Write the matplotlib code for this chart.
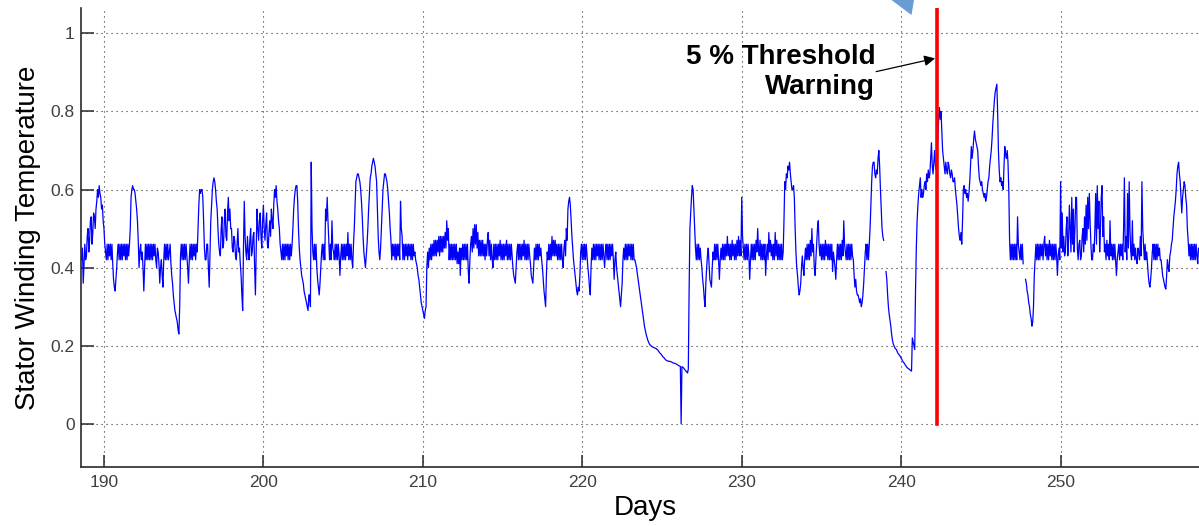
import numpy as np
import matplotlib
matplotlib.use("Agg")
import matplotlib.pyplot as plt
from matplotlib.patches import Polygon

plt.rcParams["font.family"] = ["Liberation Sans", "DejaVu Sans"]

# Data: normalised stator winding temperature, one reading every 0.05 day
first_day = 188.6
day_step = 0.05
nan = float("nan")
temperature = [
    0.42, 0.45, 0.36, 0.41, 0.46, 0.42, 0.43, 0.48,  # 188.6
    0.50, 0.44, 0.47, 0.52, 0.53, 0.46, 0.49, 0.54, 0.53, 0.50, 0.55, 0.57, 0.60, 0.58, 0.61, 0.59, 0.58, 0.55, 0.56, 0.52,  # 189
    0.50, 0.46, 0.44, 0.42, 0.46, 0.42, 0.46, 0.43, 0.46, 0.42, 0.46, 0.41, 0.37, 0.35, 0.34, 0.37, 0.40, 0.44, 0.46, 0.42,  # 190
    0.46, 0.42, 0.46, 0.42, 0.46, 0.43, 0.46, 0.42, 0.46, 0.42, 0.46, 0.43, 0.46, 0.50, 0.58, 0.60, 0.61, 0.60, 0.60, 0.59,  # 191
    0.57, 0.55, 0.52, 0.47, 0.40, 0.44, 0.46, 0.42, 0.44, 0.40, 0.34, 0.40, 0.46, 0.42, 0.46, 0.42, 0.46, 0.42, 0.46, 0.42,  # 192
    0.46, 0.42, 0.46, 0.43, 0.46, 0.42, 0.40, 0.45, 0.44, 0.41, 0.36, 0.40, 0.42, 0.38, 0.35, 0.42, 0.46, 0.42, 0.46, 0.42,  # 193
    0.46, 0.42, 0.44, 0.46, 0.41, 0.38, 0.36, 0.33, 0.31, 0.29, 0.28, 0.27, 0.26, 0.24, 0.23, 0.30, 0.43, 0.46, 0.42, 0.46,  # 194
    0.42, 0.46, 0.42, 0.46, 0.43, 0.40, 0.36, 0.42, 0.46, 0.42, 0.46, 0.42, 0.46, 0.43, 0.46, 0.42, 0.46, 0.44, 0.50, 0.56,  # 195
    0.60, 0.59, 0.60, 0.60, 0.58, 0.52, 0.45, 0.42, 0.42, 0.46, 0.46, 0.40, 0.35, 0.44, 0.52, 0.56, 0.60, 0.62, 0.63, 0.62,  # 196
    0.60, 0.57, 0.55, 0.50, 0.46, 0.44, 0.43, 0.50, 0.53, 0.45, 0.46, 0.52, 0.55, 0.48, 0.47, 0.54, 0.58, 0.52, 0.55, 0.50,  # 197
    0.50, 0.45, 0.44, 0.48, 0.47, 0.43, 0.42, 0.46, 0.50, 0.44, 0.45, 0.41, 0.38, 0.33, 0.29, 0.45, 0.57, 0.48, 0.44, 0.42,  # 198
    0.48, 0.44, 0.42, 0.47, 0.50, 0.43, 0.44, 0.48, 0.49, 0.40, 0.33, 0.45, 0.55, 0.50, 0.47, 0.52, 0.54, 0.48, 0.45, 0.52,  # 199
    0.56, 0.50, 0.47, 0.51, 0.54, 0.46, 0.45, 0.49, 0.52, 0.48, 0.55, 0.52, 0.50, 0.56, 0.60, 0.58, 0.61, 0.57, 0.55, 0.52,  # 200
    0.50, 0.46, 0.44, 0.42, 0.46, 0.42, 0.46, 0.42, 0.46, 0.43, 0.46, 0.42, 0.46, 0.42, 0.46, 0.43, 0.46, 0.50, 0.55, 0.58,  # 201
    0.60, 0.61, 0.61, 0.57, 0.50, 0.45, 0.42, 0.40, 0.38, 0.37, 0.36, 0.34, 0.33, 0.32, 0.31, 0.30, 0.29, 0.33, 0.33, 0.30,  # 202
    0.67, 0.50, 0.44, 0.42, 0.46, 0.42, 0.46, 0.40, 0.37, 0.35, 0.33, 0.36, 0.40, 0.44, 0.46, 0.42, 0.46, 0.42, 0.55, 0.52,  # 203
    0.58, 0.52, 0.47, 0.42, 0.46, 0.42, 0.52, 0.45, 0.44, 0.42, 0.46, 0.42, 0.46, 0.42, 0.46, 0.43, 0.38, 0.43, 0.46, 0.42,  # 204
    0.46, 0.42, 0.46, 0.42, 0.46, 0.43, 0.49, 0.42, 0.46, 0.42, 0.46, 0.42, 0.40, 0.46, 0.50, 0.56, 0.62, 0.63, 0.64, 0.64,  # 205
    0.63, 0.62, 0.60, 0.57, 0.53, 0.48, 0.44, 0.42, 0.40, 0.43, 0.46, 0.50, 0.55, 0.59, 0.63, 0.64, 0.66, 0.67, 0.68, 0.67,  # 206
    0.66, 0.64, 0.62, 0.55, 0.48, 0.44, 0.42, 0.45, 0.50, 0.55, 0.60, 0.62, 0.64, 0.64, 0.63, 0.62, 0.60, 0.57, 0.54, 0.50,  # 207
    0.47, 0.42, 0.46, 0.43, 0.46, 0.42, 0.46, 0.42, 0.46, 0.43, 0.46, 0.42, 0.57, 0.50, 0.48, 0.42, 0.46, 0.42, 0.46, 0.43,  # 208
    0.46, 0.42, 0.46, 0.43, 0.46, 0.42, 0.46, 0.42, 0.46, 0.43, 0.44, 0.42, 0.41, 0.40, 0.38, 0.37, 0.35, 0.33, 0.31, 0.30,  # 209
    0.29, 0.28, 0.27, 0.29, 0.30, 0.40, 0.44, 0.40, 0.45, 0.42, 0.46, 0.42, 0.46, 0.43, 0.47, 0.43, 0.47, 0.43, 0.47, 0.44,  # 210
    0.48, 0.43, 0.48, 0.44, 0.48, 0.44, 0.48, 0.45, 0.49, 0.45, 0.52, 0.47, 0.50, 0.42, 0.46, 0.42, 0.46, 0.42, 0.46, 0.42,  # 211
    0.46, 0.42, 0.46, 0.41, 0.44, 0.41, 0.45, 0.38, 0.45, 0.42, 0.46, 0.42, 0.46, 0.42, 0.46, 0.42, 0.46, 0.39, 0.36, 0.42,  # 212
    0.46, 0.48, 0.44, 0.50, 0.45, 0.51, 0.46, 0.51, 0.45, 0.49, 0.43, 0.47, 0.43, 0.47, 0.43, 0.47, 0.43, 0.46, 0.42, 0.46,  # 213
    0.43, 0.47, 0.49, 0.43, 0.47, 0.42, 0.46, 0.42, 0.40, 0.46, 0.42, 0.46, 0.42, 0.46, 0.42, 0.46, 0.43, 0.47, 0.42, 0.46,  # 214
    0.42, 0.46, 0.42, 0.46, 0.43, 0.47, 0.42, 0.46, 0.42, 0.46, 0.42, 0.46, 0.43, 0.40, 0.38, 0.37, 0.36, 0.40, 0.44, 0.46,  # 215
    0.42, 0.46, 0.42, 0.46, 0.42, 0.46, 0.43, 0.47, 0.42, 0.46, 0.42, 0.46, 0.42, 0.46, 0.43, 0.41, 0.38, 0.37, 0.36, 0.40,  # 216
    0.45, 0.42, 0.46, 0.42, 0.46, 0.42, 0.46, 0.43, 0.45, 0.42, 0.40, 0.37, 0.34, 0.32, 0.30, 0.38, 0.44, 0.42, 0.46, 0.42,  # 217
    0.46, 0.42, 0.48, 0.43, 0.47, 0.43, 0.47, 0.43, 0.46, 0.42, 0.46, 0.42, 0.46, 0.42, 0.46, 0.42, 0.40, 0.45, 0.47, 0.43,  # 218
    0.50, 0.47, 0.55, 0.57, 0.58, 0.56, 0.52, 0.48, 0.45, 0.42, 0.40, 0.38, 0.36, 0.34, 0.33, 0.35, 0.34, 0.38, 0.44, 0.46,  # 219
    0.42, 0.46, 0.42, 0.46, 0.42, 0.46, 0.43, 0.40, 0.38, 0.35, 0.33, 0.40, 0.45, 0.42, 0.46, 0.42, 0.46, 0.42, 0.46, 0.43,  # 220
    0.46, 0.42, 0.46, 0.42, 0.46, 0.42, 0.46, 0.43, 0.40, 0.44, 0.46, 0.42, 0.46, 0.42, 0.46, 0.42, 0.46, 0.43, 0.46, 0.42,  # 221
    0.37, 0.42, 0.44, 0.40, 0.38, 0.36, 0.34, 0.32, 0.30, 0.33, 0.36, 0.42, 0.45, 0.42, 0.46, 0.42, 0.46, 0.42, 0.46, 0.43,  # 222
    0.46, 0.42, 0.46, 0.42, 0.46, 0.42, 0.42, 0.41, 0.40, 0.385, 0.37, 0.355, 0.34, 0.325, 0.31, 0.295, 0.28, 0.265, 0.25, 0.24,  # 223
    0.23, 0.222, 0.215, 0.21, 0.205, 0.202, 0.20, 0.198, 0.197, 0.196, 0.195, 0.194, 0.193, 0.192, 0.19, 0.188, 0.185, 0.182, 0.18, 0.178,  # 224
    0.175, 0.172, 0.17, 0.168, 0.165, 0.163, 0.162, 0.161, 0.16, 0.16, 0.16, 0.159, 0.158, 0.157, 0.156, 0.155, 0.155, 0.154, 0.153, 0.152,  # 225
    0.15, 0.149, 0.148, 0.147, 0.0, 0.146, 0.145, 0.143, 0.14, 0.138, 0.135, 0.133, 0.13, 0.14, 0.34, 0.50, 0.54, 0.58, 0.61, 0.60,  # 226
    0.55, 0.50, 0.45, 0.42, 0.46, 0.42, 0.46, 0.42, 0.45, 0.42, 0.40, 0.37, 0.35, 0.32, 0.30, 0.36, 0.40, 0.43, 0.45, 0.41,  # 227
    0.37, 0.36, 0.35, 0.40, 0.44, 0.42, 0.46, 0.42, 0.46, 0.42, 0.46, 0.42, 0.37, 0.42, 0.45, 0.42, 0.46, 0.42, 0.46, 0.42,  # 228
    0.46, 0.43, 0.48, 0.43, 0.46, 0.42, 0.46, 0.42, 0.47, 0.43, 0.46, 0.42, 0.46, 0.42, 0.47, 0.43, 0.48, 0.43, 0.47, 0.43,  # 229
    0.58, 0.48, 0.45, 0.42, 0.46, 0.42, 0.46, 0.42, 0.46, 0.43, 0.37, 0.42, 0.46, 0.42, 0.46, 0.42, 0.46, 0.42, 0.47, 0.44,  # 230
    0.50, 0.45, 0.43, 0.47, 0.42, 0.46, 0.42, 0.46, 0.42, 0.46, 0.38, 0.43, 0.46, 0.42, 0.49, 0.44, 0.47, 0.43, 0.46, 0.42,  # 231
    0.46, 0.42, 0.49, 0.43, 0.47, 0.42, 0.46, 0.42, 0.46, 0.42, 0.46, 0.42, 0.44, 0.52, 0.62, 0.60, 0.64, 0.63, 0.66, 0.65,  # 232
    0.67, 0.64, 0.62, 0.60, 0.60, 0.61, 0.58, 0.50, 0.44, 0.40, 0.38, 0.35, 0.33, 0.34, 0.36, 0.40, 0.43, 0.40, 0.38, 0.42,  # 233
    0.45, 0.42, 0.46, 0.42, 0.46, 0.42, 0.47, 0.43, 0.50, 0.44, 0.46, 0.40, 0.38, 0.42, 0.46, 0.50, 0.52, 0.46, 0.43, 0.46,  # 234
    0.42, 0.46, 0.42, 0.46, 0.42, 0.47, 0.43, 0.46, 0.42, 0.46, 0.42, 0.46, 0.42, 0.46, 0.39, 0.44, 0.42, 0.40, 0.37, 0.42,  # 235
    0.46, 0.42, 0.46, 0.42, 0.46, 0.42, 0.47, 0.43, 0.52, 0.46, 0.44, 0.42, 0.46, 0.42, 0.46, 0.42, 0.46, 0.42, 0.46, 0.43,  # 236
    0.42, 0.38, 0.35, 0.37, 0.34, 0.33, 0.33, 0.32, 0.31, 0.32, 0.30, 0.31, 0.33, 0.36, 0.40, 0.44, 0.46, 0.42, 0.46, 0.42,  # 237
    0.46, 0.50, 0.56, 0.62, 0.66, 0.67, 0.67, 0.64, 0.63, 0.65, 0.64, 0.68, 0.70, 0.66, 0.60, 0.55, 0.50, 0.48, 0.47, nan,  # 238
    nan, 0.39, 0.37, 0.33, 0.30, 0.28, 0.265, 0.25, 0.23, 0.215, 0.205, 0.20, 0.195, 0.192, 0.19, 0.185, 0.18, 0.178, 0.175, 0.172,  # 239
    0.168, 0.164, 0.16, 0.157, 0.155, 0.151, 0.148, 0.145, 0.143, 0.141, 0.14, 0.138, 0.136, 0.135, 0.22, 0.21, 0.20, 0.19, 0.34, 0.45,  # 240
    0.52, 0.56, 0.59, 0.61, 0.63, 0.58, 0.60, 0.58, 0.59, 0.61, 0.62, 0.60, 0.64, 0.62, 0.65, 0.63, 0.64, 0.68, 0.72, 0.66,  # 241
    0.64, 0.67, 0.70, 0.66, 0.65, 0.70, 0.73, 0.78, 0.81, 0.78, 0.80, 0.75, 0.70, 0.68, 0.66, 0.64, 0.67, 0.65, 0.64, 0.67,  # 242
    0.66, 0.64, 0.63, 0.65, 0.64, 0.62, 0.62, 0.63, 0.60, 0.58, 0.56, 0.53, 0.50, 0.48, 0.47, 0.49, 0.46, 0.52, 0.60, 0.61,  # 243
    0.59, 0.60, 0.58, 0.59, 0.57, 0.59, 0.62, 0.66, 0.71, 0.68, 0.70, 0.73, 0.75, 0.73, 0.72, 0.71, 0.70, 0.66, 0.63, 0.62,  # 244
    0.61, 0.62, 0.60, 0.59, 0.58, 0.59, 0.57, 0.58, 0.60, 0.62, 0.63, 0.66, 0.68, 0.70, 0.73, 0.77, 0.80, 0.83, 0.85, 0.86,  # 245
    0.87, 0.80, 0.70, 0.65, 0.62, 0.63, 0.61, 0.62, 0.60, 0.66, 0.71, 0.69, 0.68, 0.70, 0.67, 0.60, 0.47, 0.42, 0.46, 0.42,  # 246
    0.46, 0.42, 0.46, 0.42, 0.46, 0.42, 0.53, 0.46, 0.44, 0.42, 0.46, 0.42, 0.46, 0.41, nan, nan, 0.37, 0.36, 0.34, 0.33,  # 247
    0.31, 0.30, 0.28, 0.27, 0.25, 0.26, 0.30, 0.38, 0.42, 0.46, 0.42, 0.46, 0.42, 0.46, 0.42, 0.46, 0.43, 0.46, 0.42, 0.46,  # 248
    0.48, 0.43, 0.46, 0.42, 0.46, 0.42, 0.47, 0.43, 0.46, 0.42, 0.46, 0.42, 0.46, 0.42, 0.46, 0.43, 0.38, 0.43, 0.45, 0.42,  # 249
    0.62, 0.45, 0.54, 0.44, 0.48, 0.43, 0.44, 0.50, 0.53, 0.43, 0.47, 0.56, 0.50, 0.44, 0.58, 0.46, 0.55, 0.44, 0.50, 0.58,  # 250
    0.58, 0.45, 0.42, 0.46, 0.47, 0.42, 0.43, 0.48, 0.50, 0.44, 0.53, 0.46, 0.56, 0.47, 0.58, 0.50, 0.59, 0.52, 0.46, 0.42,  # 251
    0.42, 0.46, 0.44, 0.50, 0.59, 0.46, 0.61, 0.50, 0.57, 0.44, 0.50, 0.58, 0.61, 0.48, 0.53, 0.44, 0.46, 0.42, 0.47, 0.43,  # 252
    0.46, 0.42, 0.52, 0.43, 0.46, 0.42, 0.46, 0.42, 0.46, 0.42, 0.38, 0.42, 0.44, 0.46, 0.42, 0.46, 0.43, 0.46, 0.42, 0.50,  # 253
    0.63, 0.44, 0.48, 0.42, 0.59, 0.45, 0.62, 0.50, 0.44, 0.42, 0.52, 0.43, 0.46, 0.42, 0.45, 0.42, 0.41, 0.45, 0.44, 0.42,  # 254
    0.48, 0.43, 0.62, 0.50, 0.46, 0.42, 0.46, 0.42, 0.44, 0.41, 0.38, 0.36, 0.35, 0.37, 0.40, 0.44, 0.46, 0.42, 0.46, 0.42,  # 255
    0.46, 0.42, 0.46, 0.43, 0.45, 0.42, 0.42, 0.40, 0.38, 0.37, 0.36, 0.35, 0.345, 0.38, 0.42, 0.40, 0.39, 0.43, 0.44, 0.46,  # 256
    0.47, 0.50, 0.53, 0.55, 0.57, 0.60, 0.64, 0.66, 0.67, 0.64, 0.62, 0.58, 0.54, 0.58, 0.60, 0.62, 0.61, 0.58, 0.56, 0.50,  # 257
    0.47, 0.43, 0.46, 0.42, 0.46, 0.42, 0.46, 0.42, 0.46, 0.42, 0.46, 0.43, 0.41, 0.45, 0.45,  # 258
]

warning_day = 242.24
warning_text = "5 % Threshold\nWarning"
x_ticks = [190, 200, 210, 220, 230, 240, 250]
y_ticks = [0, 0.2, 0.4, 0.6, 0.8, 1]
y_tick_labels = ["0", "0.2", "0.4", "0.6", "0.8", "1"]

days = first_day + day_step * np.arange(len(temperature))

W, H = 1199, 526
fig = plt.figure(figsize=(W / 100, H / 100), dpi=100)
ax = fig.add_axes([81 / W, 59.3 / H, 1 - 81 / W, 458.7 / H])

ax.plot(days, temperature, color="#0000ff", lw=0.9)
ax.plot([warning_day, warning_day], [0, 1.2], color="#ff0000", lw=2.6)

ax.set_xlim(188.56, 258.68)
ax.set_ylim(-0.11, 1.065)
ax.set_xticks(x_ticks)
ax.set_yticks(y_ticks)
ax.set_yticklabels(y_tick_labels)

ax.grid(True, linestyle=(0, (1, 3.5)), color="#333333", lw=0.8)
for side in ["top", "right"]:
    ax.spines[side].set_visible(False)
for side in ["left", "bottom"]:
    ax.spines[side].set_color("#2a2a2a")
    ax.spines[side].set_linewidth(1.2)

ax.tick_params(direction="in", length=9, width=1.1, color="#2a2a2a",
               labelsize=12.5, labelcolor="#404040")
ax.tick_params(axis="x", pad=6)
ax.tick_params(axis="y", pad=4.5)

ax.set_xlabel("Days", fontsize=20)
ax.xaxis.set_label_coords(0.505, -0.062)
ax.set_ylabel("Stator Winding Temperature", fontsize=20)
ax.yaxis.set_label_coords(-0.036, 0.5)

# Threshold annotation
ax.text(238.37, 0.90, warning_text, ha="right", va="center",
        multialignment="right", fontsize=20, fontweight="bold")
ax.annotate("", xy=(242.13, 0.936), xytext=(238.43, 0.902),
            arrowprops=dict(arrowstyle="-|>", color="black", lw=0.9,
                            mutation_scale=16, shrinkA=0, shrinkB=0))

# cropped callout tip at the top edge
fig.patches.append(Polygon([(891.5 / W, 1), (914 / W, 1), (911.5 / W, 1 - 15 / H)],
                           closed=True, transform=fig.transFigure,
                           facecolor="#6a9bd4", edgecolor="none"))

fig.savefig("out.png", dpi=100)
